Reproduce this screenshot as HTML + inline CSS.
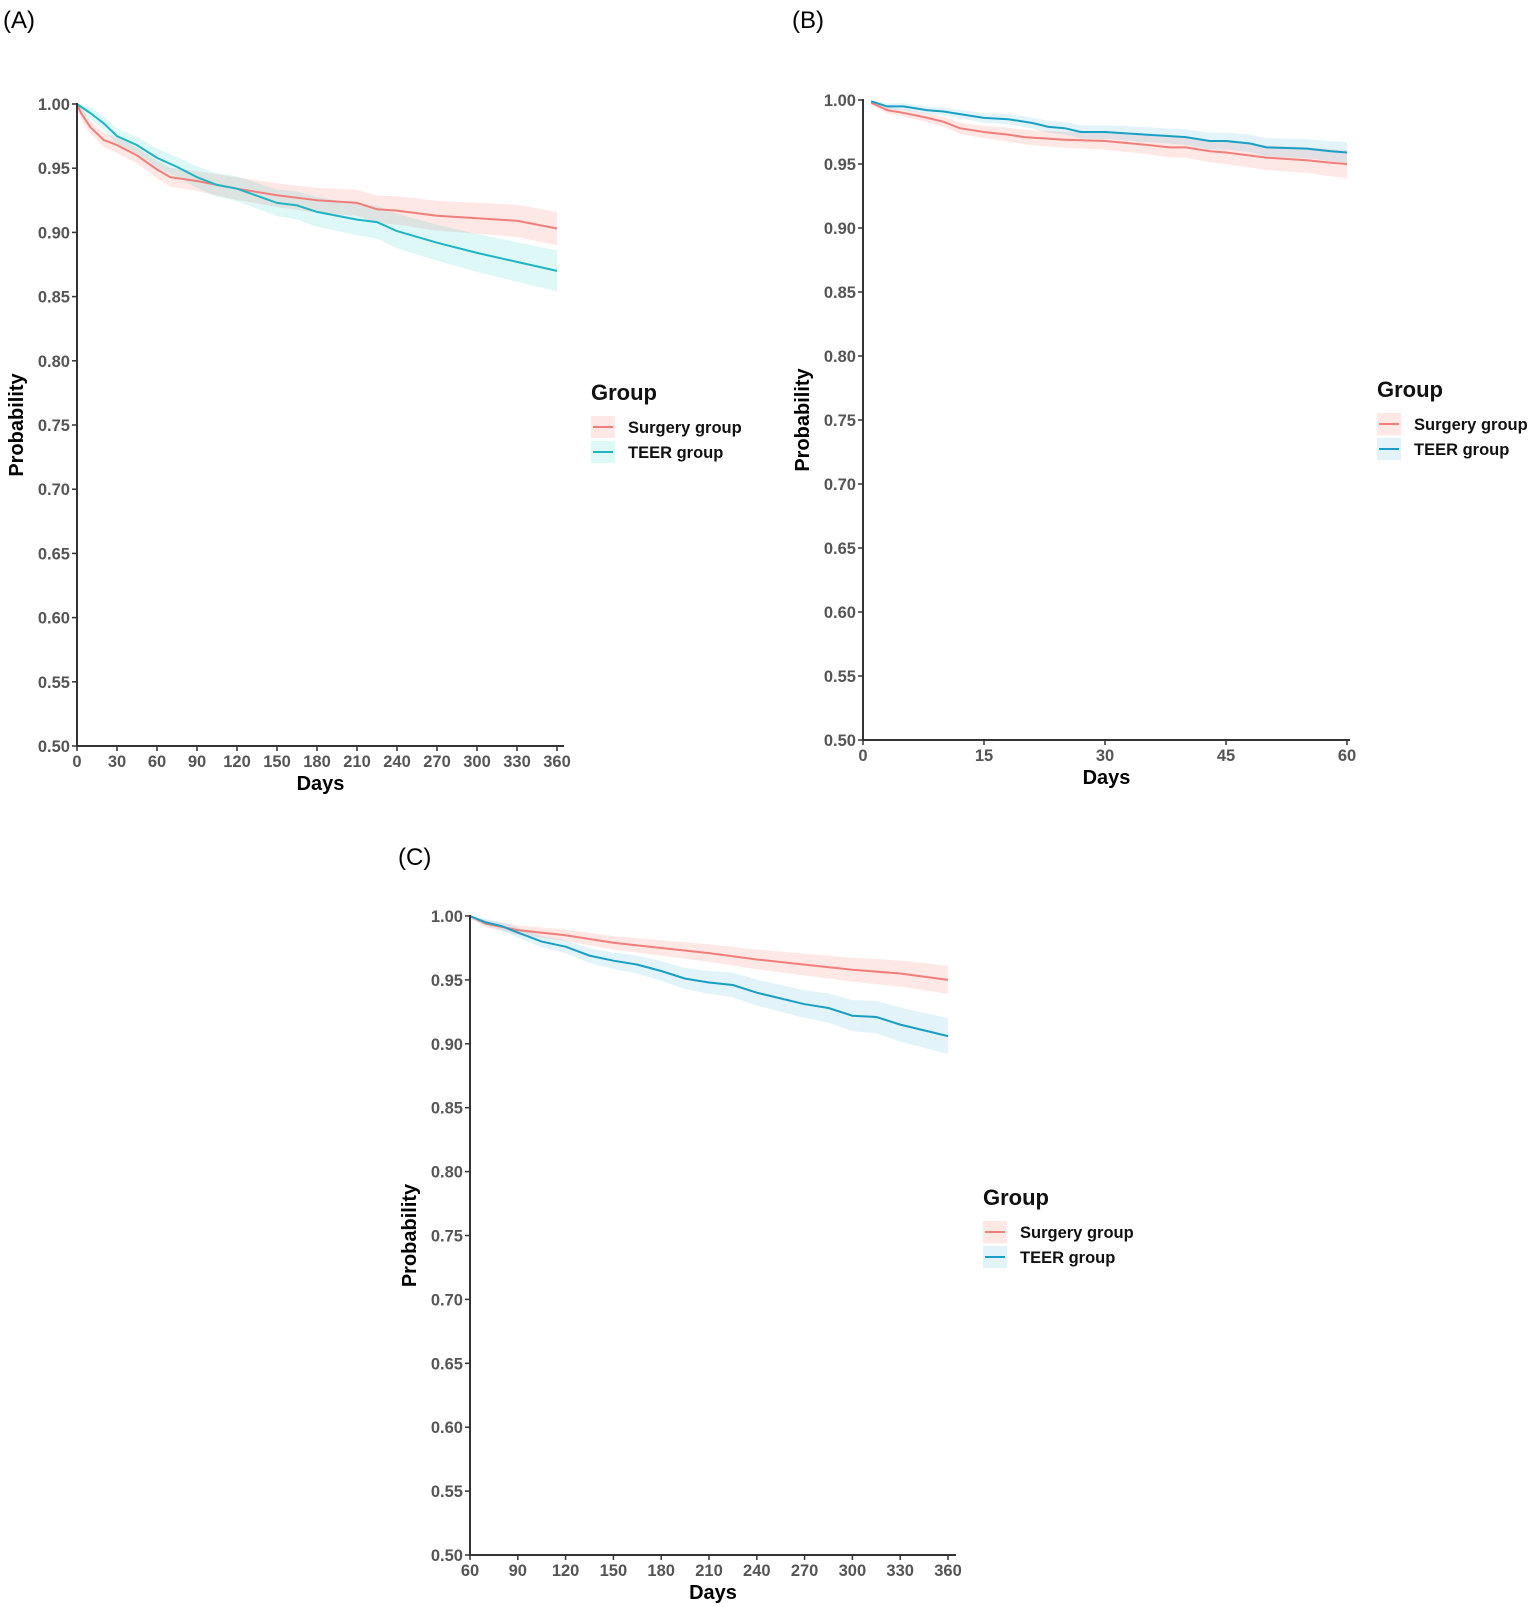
<!DOCTYPE html>
<html><head><meta charset="utf-8"><style>
html,body{margin:0;padding:0;background:#fff;}
svg{display:block;}
.tk{font-family:"Liberation Sans",sans-serif;font-weight:bold;font-size:16.5px;fill:#555;}
.at{font-family:"Liberation Sans",sans-serif;font-weight:bold;font-size:20px;fill:#000;}
.lg{font-family:"Liberation Sans",sans-serif;font-weight:bold;font-size:22px;fill:#111;}
.li{font-family:"Liberation Sans",sans-serif;font-weight:bold;font-size:16.5px;fill:#111;}
.pl{font-family:"Liberation Sans",sans-serif;font-size:24px;fill:#000;}
</style></head><body>
<svg id="s" width="1535" height="1607" xmlns="http://www.w3.org/2000/svg">
<text class="pl" x="3" y="28">(A)</text>
<text class="pl" x="792" y="28">(B)</text>
<text class="pl" x="398" y="865">(C)</text>
</svg>
<script>
var s=document.getElementById('s');var NS='http://www.w3.org/2000/svg';
function el(t,a,txt){var e=document.createElementNS(NS,t);for(var k in a)e.setAttribute(k,a[k]);if(txt!==undefined)e.textContent=txt;s.appendChild(e);return e;}
function panel(o){
 var X=function(d){return o.x0+(d-o.d0)*(o.x1-o.x0)/(o.d1-o.d0);};
 var Y=function(p){return o.y1+(1-p)*(o.y0-o.y1)/0.5;};
 o.series.forEach(function(sr){
  var up=[],lo=[],ln=[];
  sr.pts.forEach(function(q,i){var w=sr.w0+(sr.w1-sr.w0)*i/(sr.pts.length-1);
   up.push(X(q[0]).toFixed(1)+','+Y(Math.min(1,q[1]+w)).toFixed(1));
   lo.unshift(X(q[0]).toFixed(1)+','+Y(q[1]-w).toFixed(1));
   ln.push(X(q[0]).toFixed(1)+','+Y(q[1]).toFixed(1));});
  el('polygon',{points:up.concat(lo).join(' '),fill:sr.band});
  sr.line=ln;});
 o.series.forEach(function(sr){el('polyline',{points:sr.line.join(' '),fill:'none',stroke:sr.col,'stroke-width':2});});
 el('line',{x1:o.x0,y1:o.y1-1,x2:o.x0,y2:o.y0,stroke:'#333','stroke-width':2});
 el('line',{x1:o.x0-1,y1:o.y0,x2:o.xe,y2:o.y0,stroke:'#333','stroke-width':2});
 for(var i=0;i<=10;i++){var p=0.5+i*0.05,y=Y(p);
  el('line',{x1:o.x0-5,y1:y,x2:o.x0,y2:y,stroke:'#333','stroke-width':1.5});
  el('text',{class:'tk',x:o.x0-7,y:y+6,'text-anchor':'end'},p.toFixed(2));}
 o.xt.forEach(function(d){var x=X(d);
  el('line',{x1:x,y1:o.y0,x2:x,y2:o.y0+5,stroke:'#333','stroke-width':1.5});
  el('text',{class:'tk',x:x,y:o.y0+21,'text-anchor':'middle'},String(d));});
 el('text',{class:'at',x:(o.x0+o.xe)/2,y:o.y0+44,'text-anchor':'middle'},'Days');
 var yc=(o.y0+o.y1)/2;
 el('text',{class:'at',x:0,y:0,'text-anchor':'middle',transform:'translate('+(o.x0-54)+','+yc+') rotate(-90)'},'Probability');
 var L=o.leg;
 el('text',{class:'lg',x:L.x,y:L.y},'Group');
 [[o.series[0],'Surgery group'],[o.series[1],'TEER group']].forEach(function(it,i){var cy=L.y+27+i*25;
  el('rect',{x:L.x,y:cy-11,width:24,height:22,fill:it[0].band});
  el('line',{x1:L.x+2,y1:cy,x2:L.x+22,y2:cy,stroke:it[0].col,'stroke-width':2});
  el('text',{class:'li',x:L.x+37,y:cy+6},it[1]);});
}
var pinkB='rgba(248,118,109,0.17)',tealB='rgba(0,191,196,0.13)',blueB='rgba(30,160,210,0.13)';
panel({x0:77,x1:557,d0:0,d1:360,xe:564,y0:746,y1:104,xt:[0,30,60,90,120,150,180,210,240,270,300,330,360],leg:{x:591,y:400},
 series:[{col:'#F07E7A',band:pinkB,w0:0.004,w1:0.013,pts:[[0,1],[3,0.993],[10,0.982],[20,0.972],[30,0.968],[45,0.96],[60,0.949],[70,0.943],[90,0.940],[105,0.937],[120,0.934],[150,0.929],[180,0.925],[210,0.923],[225,0.918],[240,0.917],[270,0.913],[300,0.911],[330,0.909],[360,0.903]]},
  {col:'#1FB5C2',band:tealB,w0:0.004,w1:0.016,pts:[[0,1],[10,0.993],[20,0.985],[30,0.975],[45,0.968],[60,0.958],[75,0.951],[90,0.943],[105,0.937],[120,0.934],[150,0.923],[165,0.921],[180,0.916],[210,0.910],[225,0.908],[240,0.901],[270,0.892],[300,0.884],[330,0.877],[360,0.870]]}]});
panel({x0:863,x1:1347,d0:0,d1:60,xe:1350,y0:740,y1:100,xt:[0,15,30,45,60],leg:{x:1377,y:397},
 series:[{col:'#F07E7A',band:pinkB,w0:0.002,w1:0.011,pts:[[1,0.998],[3,0.992],[5,0.99],[8,0.986],[10,0.983],[12,0.978],[15,0.975],[18,0.973],[20,0.971],[25,0.969],[30,0.968],[35,0.965],[38,0.963],[40,0.963],[43,0.96],[45,0.959],[50,0.955],[55,0.953],[58,0.951],[60,0.95]]},
  {col:'#1A9FC4',band:blueB,w0:0.002,w1:0.008,pts:[[1,0.999],[3,0.995],[5,0.995],[8,0.992],[10,0.991],[13,0.988],[15,0.986],[18,0.985],[21,0.982],[23,0.979],[25,0.978],[27,0.975],[30,0.975],[35,0.973],[40,0.971],[43,0.968],[45,0.968],[48,0.966],[50,0.963],[55,0.962],[58,0.96],[60,0.959]]}]});
panel({x0:470,x1:948,d0:60,d1:360,xe:956,y0:1555,y1:916,xt:[60,90,120,150,180,210,240,270,300,330,360],leg:{x:983,y:1205},
 series:[{col:'#F07E7A',band:pinkB,w0:0.002,w1:0.011,pts:[[60,1],[70,0.994],[90,0.989],[120,0.985],[150,0.979],[180,0.975],[210,0.971],[240,0.966],[270,0.962],[300,0.958],[330,0.955],[360,0.950]]},
  {col:'#1A9FC4',band:blueB,w0:0.002,w1:0.014,pts:[[60,1],[70,0.995],[80,0.992],[90,0.987],[105,0.98],[120,0.976],[135,0.969],[150,0.965],[165,0.962],[180,0.957],[195,0.951],[210,0.948],[225,0.946],[240,0.940],[270,0.931],[285,0.928],[300,0.922],[315,0.921],[330,0.915],[360,0.906]]}]});
</script>
</body></html>
